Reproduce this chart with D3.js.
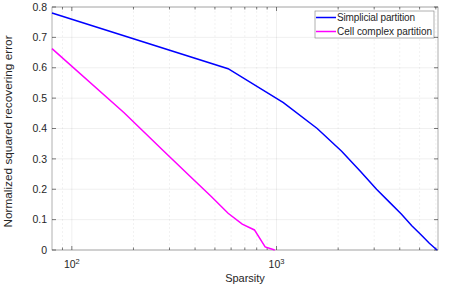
<!DOCTYPE html>
<html>
<head>
<meta charset="utf-8">
<script src="https://cdn.jsdelivr.net/npm/d3@7"></script>
<style>
  body { margin: 0; background: #fff; }
  svg text { font-family: "Liberation Sans", Arial, sans-serif; fill: #262626; }
</style>
</head>
<body>
<div id="container"></div>
<script>
// sparsity levels and recovering errors
var simplicialX = [80, 580, 1080, 1580, 2080, 2580, 3080, 3580, 4080, 4580, 5080, 5580, 6080];
var simplicialY = [0.78, 0.597, 0.485, 0.40, 0.325, 0.258, 0.20, 0.156, 0.118, 0.08, 0.05, 0.022, 0.0];
var cellX = [80, 180, 280, 380, 480, 580, 680, 780, 880, 980];
var cellY = [0.663, 0.452, 0.327, 0.241, 0.176, 0.121, 0.085, 0.066, 0.01, 0.0];
var seriesNames = ["Simplicial partition", "Cell complex partition"];
var seriesColors = ["#0000ff", "#ff00ff"];
var yTicks = [0, 0.1, 0.2, 0.3, 0.4, 0.5, 0.6, 0.7, 0.8];
var xMajor = [100, 1000];
var xMinor = [90, 200, 300, 400, 500, 600, 700, 800, 900, 2000, 3000, 4000, 5000, 6000];

var W = 463, H = 289;
var margin = {left: 52, right: 25, top: 7, bottom: 39};
var iw = W - margin.left - margin.right, ih = H - margin.top - margin.bottom;

var svg = d3.select("#container").append("svg").attr("width", W).attr("height", H);
var g = svg.append("g").attr("transform", "translate(" + margin.left + "," + margin.top + ")");

var x = d3.scaleLog().domain([80, 6150]).range([0, iw]);
var y = d3.scaleLinear().domain([0, 0.8]).range([ih, 0]);

// grid
g.selectAll(".ymaj").data(yTicks).enter().append("line")
  .attr("x1", 0).attr("x2", iw).attr("y1", d => y(d)).attr("y2", d => y(d))
  .attr("stroke", "#262626").attr("stroke-opacity", 0.12).attr("stroke-width", 0.6);
g.selectAll(".xmaj").data(xMajor).enter().append("line")
  .attr("x1", d => x(d)).attr("x2", d => x(d)).attr("y1", 0).attr("y2", ih)
  .attr("stroke", "#262626").attr("stroke-opacity", 0.12).attr("stroke-width", 0.6);
g.selectAll(".xmin").data(xMinor).enter().append("line")
  .attr("x1", d => x(d)).attr("x2", d => x(d)).attr("y1", 0).attr("y2", ih)
  .attr("stroke", "#262626").attr("stroke-opacity", 0.1).attr("stroke-width", 0.6)
  .attr("stroke-dasharray", "2,2");

// box
g.append("rect").attr("width", iw).attr("height", ih)
  .attr("fill", "none").attr("stroke", "#262626").attr("stroke-opacity", 0.6).attr("stroke-width", 0.6);

// ticks inward
var allX = xMajor.concat(xMinor);
[0, ih].forEach(function(base) {
  var dir = base === 0 ? 1 : -1;
  g.selectAll(null).data(allX).enter().append("line")
    .attr("x1", d => x(d)).attr("x2", d => x(d))
    .attr("y1", base).attr("y2", d => base + dir * (xMajor.indexOf(d) >= 0 ? 4 : 2.5))
    .attr("stroke", "#262626").attr("stroke-width", 0.6);
});
[0, iw].forEach(function(base) {
  var dir = base === 0 ? 1 : -1;
  g.selectAll(null).data(yTicks).enter().append("line")
    .attr("x1", base).attr("x2", base + dir * 4)
    .attr("y1", d => y(d)).attr("y2", d => y(d))
    .attr("stroke", "#262626").attr("stroke-width", 0.6);
});

// y tick labels
g.selectAll(".ylab").data(yTicks).enter().append("text")
  .attr("x", -5).attr("y", d => y(d)).attr("dy", "0.35em")
  .attr("text-anchor", "end").attr("font-size", 10.5)
  .text(d => d === 0 ? "0" : d3.format(".1f")(d));

// x tick labels 10^n
var xl = g.selectAll(".xlab").data(xMajor).enter().append("text")
  .attr("x", d => x(d)).attr("y", ih + 18).attr("text-anchor", "middle").attr("font-size", 10.5);
xl.append("tspan").text("10");
xl.append("tspan").attr("dy", -4).attr("font-size", 7.5).text(d => Math.round(Math.log10(d)));

// axis titles
svg.append("text").attr("x", margin.left + iw / 2).attr("y", 282)
  .attr("text-anchor", "middle").attr("font-size", 11).text("Sparsity");
svg.append("text").attr("transform", "translate(12," + (margin.top + ih / 2 + 3) + ") rotate(-90)")
  .attr("text-anchor", "middle").attr("font-size", 11.8).text("Normalized squared recovering error");

// lines
var line = d3.line().x(d => x(d[0])).y(d => y(d[1]));
var series = [d3.zip(simplicialX, simplicialY), d3.zip(cellX, cellY)];
series.forEach(function(s, i) {
  g.append("path").datum(s).attr("d", line)
    .attr("fill", "none").attr("stroke", seriesColors[i]).attr("stroke-width", 1.5);
});

// legend
var lg = svg.append("g").attr("transform", "translate(315,11)");
lg.append("rect").attr("width", 119).attr("height", 27)
  .attr("fill", "#fff").attr("stroke", "#262626").attr("stroke-opacity", 0.6).attr("stroke-width", 0.6);
seriesNames.forEach(function(n, i) {
  lg.append("line").attr("x1", 1).attr("x2", 21).attr("y1", 6.5 + i * 14).attr("y2", 6.5 + i * 14)
    .attr("stroke", seriesColors[i]).attr("stroke-width", 1.5);
  lg.append("text").attr("x", 22).attr("y", 6.5 + i * 14).attr("dy", "0.35em")
    .attr("font-size", 10).attr("textLength", i === 0 ? 78 : 95).text(n);
});
</script>
</body>
</html>
